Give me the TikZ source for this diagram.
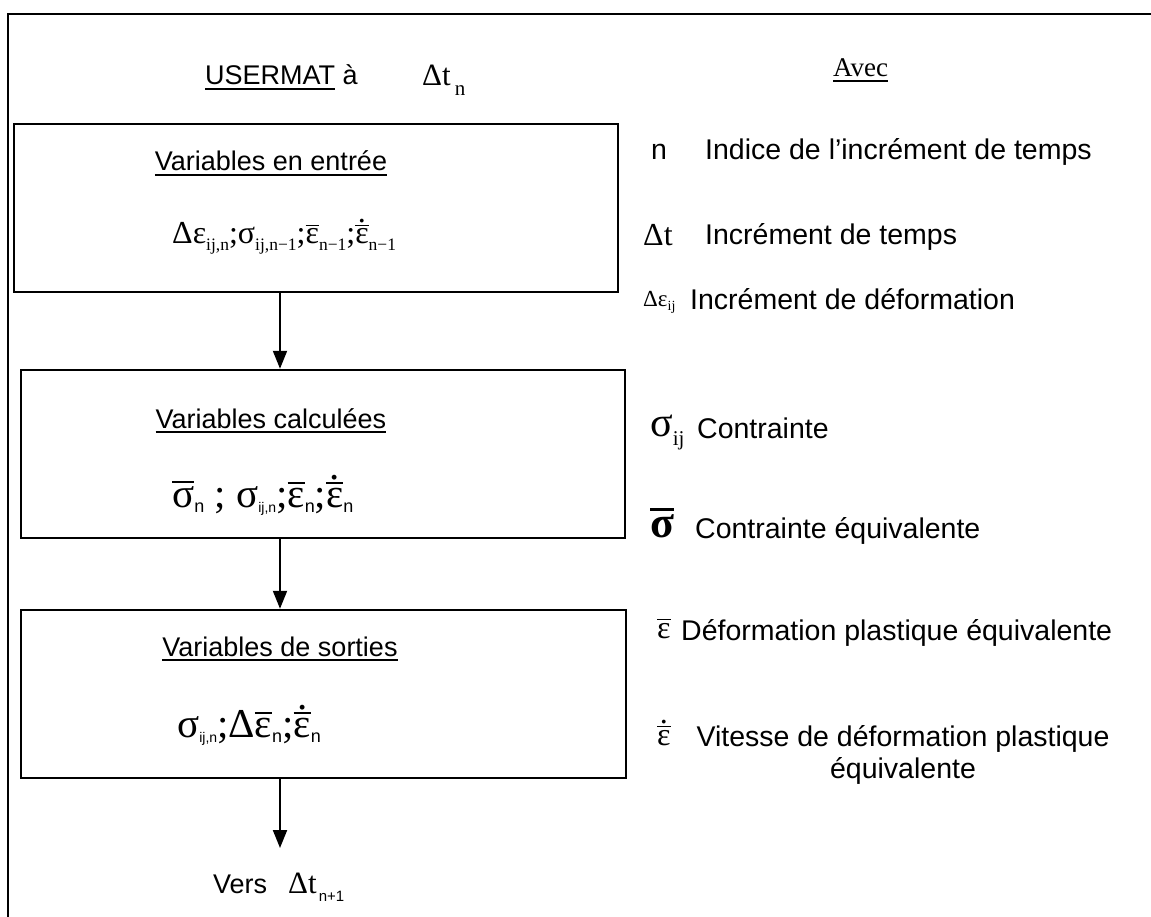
\documentclass[tikz,border=0pt]{standalone}
\usepackage{fontspec}
\setmainfont{Liberation Sans}
\newfontfamily\tms{Liberation Serif}
\usetikzlibrary{arrows.meta}
\newcommand\myul[1]{\setbox0\hbox{#1}\rlap{\raisebox{-0.17em}{\rule{\wd0}{0.05em}}}\box0\relax}
\newcommand\mybar[1]{\setbox0\hbox{#1}\rlap{\raisebox{\dimexpr\ht0+0.08em\relax}{\rule{\wd0}{0.05em}}}\box0\relax}
\newcommand\mydotbar[1]{\setbox0\hbox{#1}\rlap{\raisebox{\dimexpr\ht0+0.08em\relax}{\rule{\wd0}{0.05em}}}\rlap{\hbox to\wd0{\hss\raisebox{\dimexpr\ht0+0.2em\relax}{.}\hss}}\box0\relax}
\newcommand\dn[3]{\raisebox{#1}{\fontsize{#2}{#2}\selectfont #3}}
\begin{document}
\begin{tikzpicture}[x=1pt,y=-1pt,
  box/.style={draw,line width=2.5pt,inner sep=0pt},
  txt/.style={inner sep=0pt,anchor=base west,font=\fontsize{28.5}{34}\selectfont},
  ttl/.style={inner sep=0pt,anchor=base,font=\fontsize{27}{32}\selectfont},
  sym/.style={inner sep=0pt,anchor=base west},
  arr/.style={line width=2pt,-{Triangle[width=14pt,length=18pt]}}]
\useasboundingbox (0,0) rectangle (1151,917);
\draw[line width=2pt] (8,917) -- (8,14) -- (1151,14);
% header
\node[txt,font=\fontsize{27}{32}\selectfont] (hdr) at (205,85) {\myul{USERMAT} à};
\node[sym] (hdt) at (422,86) {{\tms\fontsize{31}{31}\selectfont Δt}\kern4pt\dn{-10pt}{21}{\tms n}};
\node[sym,font=\tms\fontsize{27}{30}\selectfont] (avec) at (833,77) {\myul{Avec}};
% boxes
\node[box,minimum width=604pt,minimum height=168pt] (b1) at (316,208) {};
\node[box,minimum width=604pt,minimum height=168pt] (b2) at (323,454) {};
\node[box,minimum width=605pt,minimum height=168pt] (b3) at (323.5,694) {};
\node[ttl] (t1) at (271,171) {\myul{Variables en entrée}};
\node[ttl] (t2) at (271,428) {\myul{Variables calculées}};
\node[ttl] (t3) at (280,656) {\myul{Variables de sorties}};
\node[sym,font=\tms\fontsize{32}{36}\selectfont] (f1) at (172,244)
  {Δε\dn{-7pt}{17.5}{ij,n};σ\dn{-7pt}{17.5}{ij,n−1};\mybar{ε}\dn{-7pt}{17.5}{n−1};\mydotbar{ε}\dn{-7pt}{17.5}{n−1}};
\node[sym,font=\tms\fontsize{41}{45}\selectfont] (f2) at (172,507)
  {\mybar{σ}\dn{-5pt}{18}{\rmfamily n} ; σ\dn{-5pt}{14}{\rmfamily ij,n};\mybar{ε}\dn{-5pt}{18}{\rmfamily n};\mydotbar{ε}\dn{-5pt}{18}{\rmfamily n}};
\node[sym,font=\tms\fontsize{41}{45}\selectfont] (f3) at (177,737)
  {σ\dn{-5pt}{14}{\rmfamily ij,n};Δ\mybar{ε}\dn{-5pt}{18}{\rmfamily n};\mydotbar{ε}\dn{-5pt}{18}{\rmfamily n}};
% arrows
\coordinate (ax) at (280,0);
\coordinate (vend) at (280,848);
\draw[arr] (ax |- b1.south) -- (ax |- b2.north);
\draw[arr] (ax |- b2.south) -- (ax |- b3.north);
\draw[arr] (ax |- b3.south) -- (vend);
\node[txt,font=\fontsize{27}{32}\selectfont] (vers) at (213,893) {Vers};
\node[sym] (vdt) at (288,893) {{\tms\fontsize{31}{31}\selectfont Δt}\kern2pt\dn{-8pt}{15}{n+1}};
% legend
\node[txt] (sn) at (651,160) {n};
\node[txt] (dn) at (705,160) {Indice de l’incrément de temps};
\node[sym] (sdt) at (643,246) {{\tms\fontsize{32}{32}\selectfont Δt}};
\node[txt] (ddt) at (705,245) {Incrément de temps};
\node[sym] (sde) at (643,306) {{\tms\fontsize{23}{23}\selectfont Δε\dn{-4pt}{14}{ij}}};
\node[txt] (dde) at (690,309) {Incrément de déformation};
\node[sym] (ssg) at (650,436) {{\tms\fontsize{42}{42}\selectfont σ\dn{-9pt}{21}{ij}}};
\node[txt] (dsg) at (697,438) {Contrainte};
\node[sym] (ssb) at (650,537) {{\tms\bfseries\fontsize{44}{44}\selectfont \mybar{σ}}};
\node[txt] (dsb) at (695,538) {Contrainte équivalente};
\node[sym] (seb) at (657,638) {{\tms\fontsize{32}{32}\selectfont \mybar{ε}}};
\node[txt] (deb) at (681,640) {Déformation plastique équivalente};
\node[sym] (sed) at (657,745) {{\tms\fontsize{32}{32}\selectfont \mydotbar{ε}}};
\node[inner sep=0pt,align=center,anchor=center,font=\fontsize{28.5}{32}\selectfont] (ded) at (903,755) {Vitesse de déformation plastique\\équivalente};
\end{tikzpicture}
\end{document}
